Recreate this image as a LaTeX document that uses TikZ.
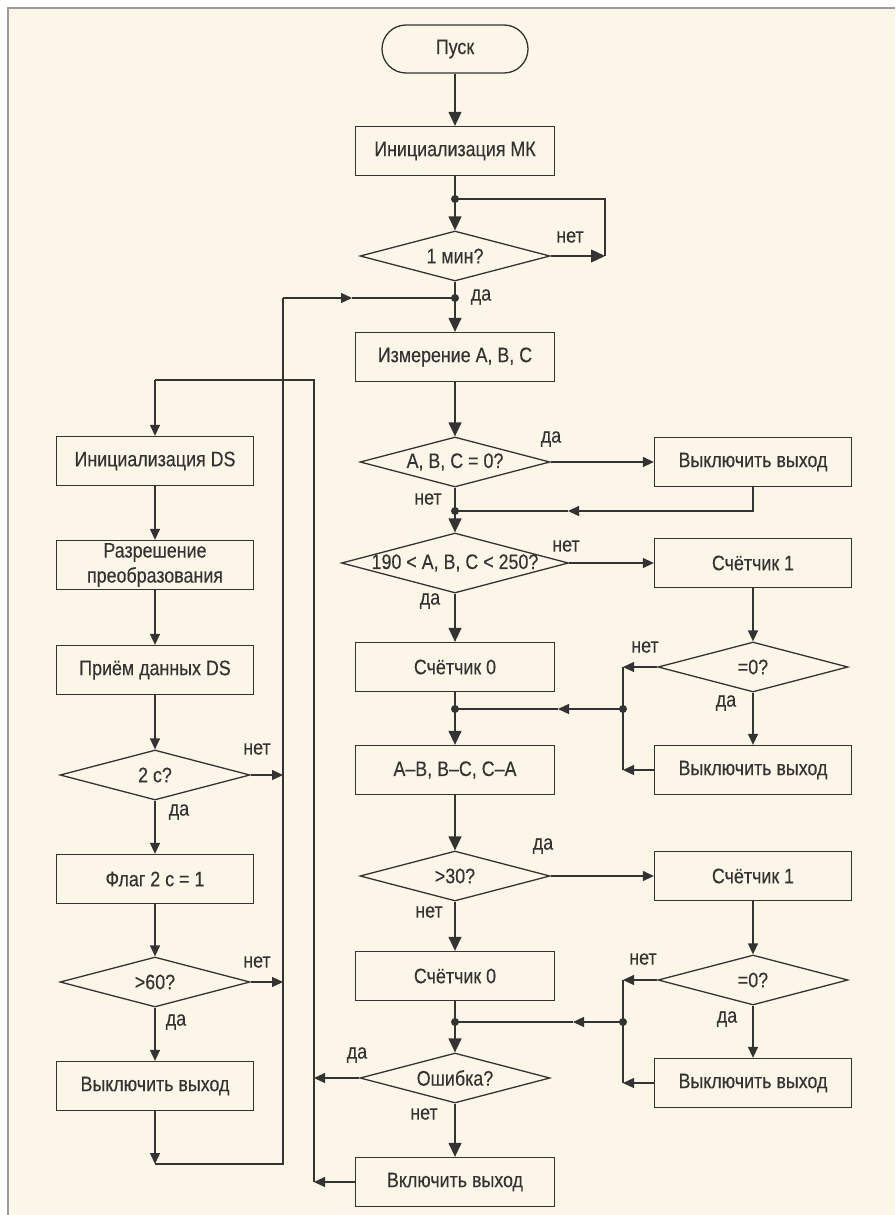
\documentclass[tikz,border=0pt]{standalone}
\usepackage{fontspec}
\setmainfont{Liberation Sans}[FakeStretch=0.85,FakeBold=0.3]
\usetikzlibrary{shapes.geometric,arrows.meta}
\definecolor{bgc}{HTML}{FCF6E8}
\definecolor{ln}{HTML}{333333}
\definecolor{frm}{HTML}{9C9C9C}
\begin{document}
\begin{tikzpicture}[x=1pt,y=-1pt,
  every node/.style={font=\fontsize{21}{25}\selectfont, text=ln},
  box/.style={draw=ln, line width=1.3pt, rectangle, minimum width=199pt, minimum height=49pt, inner sep=0pt, align=center},
  rbox/.style={box, minimum width=197pt},
  dia/.style={draw=ln, line width=1.3pt, diamond, minimum width=190pt, minimum height=50pt, inner sep=0pt},
  term/.style={draw=ln, line width=1.3pt, rounded corners=24pt, minimum width=146pt, minimum height=48pt, inner sep=0pt},
  lbl/.style={inner sep=0pt},
  flow/.style={draw=ln, line width=1.3pt},
  big/.style={flow, -{Triangle[length=14pt,width=13pt]}},
  sm/.style={flow, -{Triangle[length=11pt,width=10pt]}},
  dotc/.style={circle, fill=ln, inner sep=0pt, minimum size=8pt},
]
\useasboundingbox (0,0) rectangle (895,1215);
\fill[bgc] (0,0) rectangle (895,1215);
\fill[white] (0,0) rectangle (7,1215);
\fill[white] (0,0) rectangle (895,7);
\draw[frm, line width=2pt] (8,1215) -- (8,8) -- (895,8);

% main column
\node[term] (start) at (455,49) {Пуск};
\node[box] (initmk) at (455,151) {Инициализация МК};
\coordinate (j1) at (455,199);
\node[dia] (dmin) at (455,256) {\makebox[0pt]{1 мин?}};
\coordinate (k1) at (605,256);
\coordinate (k0) at (605,199);
\coordinate (j2) at (455,298);
\node[box] (meas) at (455,357) {Измерение A, B, C};
\node[dia] (dabc) at (455,462) {\makebox[0pt]{A, B, C = 0?}};
\node[rbox] (off1) at (753,462) {Выключить выход};
\coordinate (j3) at (455,511);
\coordinate (m1) at (568,511);
\node[dia, minimum width=227pt, minimum height=60pt] (drng) at (455,563) {\makebox[0pt]{190 < A, B, C < 250?}};
\node[rbox] (cnt1a) at (753,563) {Счётчик 1};
\node[box] (cnt0a) at (455,667) {Счётчик 0};
\node[dia] (dz1) at (753,667) {\makebox[0pt]{=0?}};
\coordinate (v0) at (623,667);
\coordinate (v1) at (623,709);
\coordinate (j4) at (455,709);
\coordinate (m2) at (558,709);
\node[rbox] (off2) at (753,770) {Выключить выход};
\coordinate (v3) at (623,770);
\node[box] (diff) at (455,770) {A–B, B–C, C–A};
\node[dia] (d30) at (455,876) {\makebox[0pt]{>30?}};
\node[rbox] (cnt1b) at (753,876) {Счётчик 1};
\node[box] (cnt0b) at (455,976) {Счётчик 0};
\node[dia] (dz2) at (753,980) {\makebox[0pt]{=0?}};
\coordinate (w0) at (623,980);
\coordinate (v2) at (623,1022);
\coordinate (j5) at (455,1022);
\coordinate (m3) at (573,1022);
\node[rbox] (off3) at (753,1083) {Выключить выход};
\coordinate (w3) at (623,1083);
\node[dia] (derr) at (455,1078) {\makebox[0pt]{Ошибка?}};
\node[box] (on) at (455,1182) {Включить выход};
\coordinate (e1) at (314,1078);
\coordinate (e2) at (314,1182);
\coordinate (e3) at (314,380);
\coordinate (e4) at (155,380);

% left column
\node[rbox] (initds) at (155,461) {Инициализация DS};
\node[rbox] (perm) at (155,565) {Разрешение\\преобразования};
\node[rbox] (recv) at (155,670) {Приём данных DS};
\node[dia] (d2s) at (155,775) {\makebox[0pt]{2 с?}};
\node[rbox] (flag) at (155,879) {Флаг 2 с = 1};
\node[dia] (d60) at (155,982) {\makebox[0pt]{>60?}};
\node[rbox] (offl) at (155,1086) {Выключить выход};
\coordinate (cl) at (155,1164);
\coordinate (b1) at (283,775);
\coordinate (b3) at (283,982);
\coordinate (b2) at (283,298);
\coordinate (m0) at (352,298);

% connectors main
\draw[big] (start) -- (initmk);
\draw[flow] (initmk) -- (j1);
\draw[big] (j1) -- (dmin);
\draw[flow] (j1) -- (k0) -- (k1);
\draw[big] (dmin.east) -- (k1);
\draw[flow] (dmin) -- (j2);
\draw[big] (j2) -- (meas);
\draw[big] (meas) -- (dabc);
\draw[sm] (dabc.east) -- (off1.west);
\draw[flow] (dabc) -- (j3);
\draw[sm] (off1.south) |- (m1);
\draw[flow] (m1) -- (j3);
\draw[big] (j3) -- (drng);
\draw[sm] (drng.east) -- (cnt1a.west);
\draw[big] (drng) -- (cnt0a);
\draw[sm] (cnt1a) -- (dz1);
\draw[sm] (dz1.west) -- (v0);
\draw[sm] (dz1) -- (off2);
\draw[sm] (off2.west) -- (v3);
\draw[flow] (v0) -- (v3);
\draw[sm] (v1) -- (m2);
\draw[flow] (m2) -- (j4);
\draw[flow] (cnt0a) -- (j4);
\draw[big] (j4) -- (diff);
\draw[big] (diff) -- (d30);
\draw[sm] (d30.east) -- (cnt1b.west);
\draw[big] (d30) -- (cnt0b);
\draw[sm] (cnt1b) -- (dz2);
\draw[sm] (dz2.west) -- (w0);
\draw[sm] (dz2) -- (off3);
\draw[sm] (off3.west) -- (w3);
\draw[flow] (w0) -- (w3);
\draw[sm] (v2) -- (m3);
\draw[flow] (m3) -- (j5);
\draw[flow] (cnt0b) -- (j5);
\draw[big] (j5) -- (derr);
\draw[big] (derr) -- (on);
\draw[sm] (derr.west) -- (e1);
\draw[sm] (on.west) -- (e2);
\draw[flow] (e2) -- (e3) -- (e4);

% connectors left
\draw[sm] (e4) -- (initds);
\draw[sm] (initds) -- (perm);
\draw[sm] (perm) -- (recv);
\draw[sm] (recv) -- (d2s);
\draw[sm] (d2s) -- (flag);
\draw[sm] (flag) -- (d60);
\draw[sm] (d60) -- (offl);
\draw[sm] (offl) -- (cl);
\draw[flow] (cl) -| (b2);
\draw[sm] (b2) -- (m0);
\draw[flow] (m0) -- (j2);
\draw[sm] (d2s.east) -- (b1);
\draw[sm] (d60.east) -- (b3);

% dots
\foreach \p in {j1,j2,j3,j4,j5,v1,v2} \node[dotc] at (\p) {};

% labels
\node[lbl] (l1) at (570,237) {нет};
\node[lbl] (l2) at (481,297) {да};
\node[lbl] (l3) at (551,439) {да};
\node[lbl] (l4) at (428,499) {нет};
\node[lbl] (l5) at (566,546) {нет};
\node[lbl] (l6) at (430,601) {да};
\node[lbl] (l7) at (645,647) {нет};
\node[lbl] (l8) at (726,703) {да};
\node[lbl] (l9) at (543,846) {да};
\node[lbl] (l10) at (429,912) {нет};
\node[lbl] (l11) at (643,959) {нет};
\node[lbl] (l12) at (727,1019) {да};
\node[lbl] (l13) at (357,1055) {да};
\node[lbl] (l14) at (424,1114) {нет};
\node[lbl] (l15) at (257,749) {нет};
\node[lbl] (l16) at (179,812) {да};
\node[lbl] (l17) at (257,962) {нет};
\node[lbl] (l18) at (176,1022) {да};
\end{tikzpicture}
\end{document}
